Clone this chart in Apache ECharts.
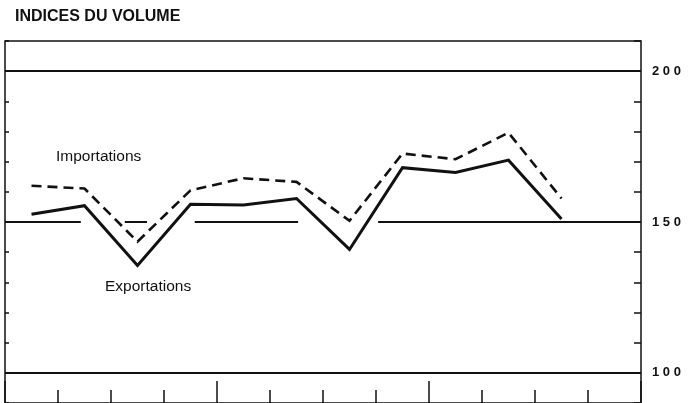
<!DOCTYPE html>
<html>
<head>
<meta charset="utf-8">
<title>Indices du volume</title>
<script src="https://cdn.jsdelivr.net/npm/echarts@6/dist/echarts.min.js"></script>
<style>
  html, body { margin: 0; padding: 0; background: #ffffff; }
  #chart { width: 700px; height: 403px; }
</style>
</head>
<body>
<div id="chart"></div>
<script>
// Quarterly periods over three years (last quarter not yet published)
var quarters = ['A1-T1', 'A1-T2', 'A1-T3', 'A1-T4',
                'A2-T1', 'A2-T2', 'A2-T3', 'A2-T4',
                'A3-T1', 'A3-T2', 'A3-T3', 'A3-T4'];

// Volume indices
var importations = [162.0, 161.1, 143.5, 160.5, 164.5, 163.3, 150.4, 172.7, 170.8, 179.6, 157.8];
var exportations = [152.6, 155.4, 135.6, 155.9, 155.6, 157.8, 140.9, 168.0, 166.4, 170.5, 151.0];

// Scale of the index axis
var yMin = 90, yMax = 210, yStep = 10;
var labelledValues = [200, 150, 100];
var fullRefLines = [200, 100];

// Broken reference line at 150, given as [from, to] in quarter units
var refLevel = 150;
var refSegments = [[0, 1.43], [2.26, 2.68], [3.58, 5.53], [7.04, 12]];

var ink = '#111111';
var chart = echarts.init(document.getElementById('chart'), null, { renderer: 'canvas' });

var refMarkData = fullRefLines.map(function (v) { return { yAxis: v }; })
  .concat(refSegments.map(function (s) {
    return [{ coord: [s[0], refLevel] }, { coord: [s[1], refLevel] }];
  }));

chart.setOption({
  animation: false,
  backgroundColor: '#ffffff',
  title: {
    text: 'INDICES DU VOLUME',
    left: 10,
    top: 4,
    textStyle: { fontFamily: 'Liberation Sans', fontSize: 16, fontWeight: 'bold', color: ink }
  },
  grid: {
    left: 5, top: 41, width: 636, height: 364,
    show: true, borderColor: ink, borderWidth: 1.5, backgroundColor: 'transparent'
  },
  xAxis: [
    {
      type: 'category', data: quarters, position: 'bottom', boundaryGap: true,
      axisLine: { show: false },
      axisTick: { show: true, inside: true, length: 13, lineStyle: { color: ink, width: 1.5 } },
      axisLabel: { show: false }, splitLine: { show: false }
    },
    {
      type: 'category', data: quarters, position: 'bottom', boundaryGap: true,
      axisLine: { show: false },
      axisTick: {
        show: true, inside: true, length: 22,
        interval: function (i) { return i % 4 === 0; },
        lineStyle: { color: ink, width: 1.5 }
      },
      axisLabel: { show: false }, splitLine: { show: false }
    },
    {
      type: 'value', min: 0, max: quarters.length, position: 'top', show: false
    }
  ],
  yAxis: [
    {
      type: 'value', position: 'left', min: yMin, max: yMax, interval: yStep,
      axisLine: { show: false },
      axisTick: { show: true, inside: true, length: 4, lineStyle: { color: ink, width: 1.5 } },
      axisLabel: { show: false }, splitLine: { show: false }
    },
    {
      type: 'value', position: 'right', min: yMin, max: yMax, interval: yStep,
      axisLine: { show: false },
      axisTick: { show: true, inside: true, length: 7, lineStyle: { color: ink, width: 1.5 } },
      axisLabel: {
        show: true, margin: 11, color: ink,
        fontFamily: 'Liberation Sans', fontSize: 13, fontWeight: 'bold',
        padding: [0, 0, 7, 0],
        formatter: function (v) {
          return labelledValues.indexOf(v) >= 0 ? String(v).split('').join(' ') : '';
        }
      },
      splitLine: { show: false }
    }
  ],
  series: [
    {
      name: 'Importations', type: 'line', xAxisIndex: 0, yAxisIndex: 0,
      data: importations, symbol: 'none', silent: true,
      lineStyle: { color: ink, width: 2.6, type: [10, 6], join: 'miter', cap: 'butt' }
    },
    {
      name: 'Exportations', type: 'line', xAxisIndex: 0, yAxisIndex: 0,
      data: exportations, symbol: 'none', silent: true,
      lineStyle: { color: ink, width: 3, type: 'solid', join: 'miter', cap: 'butt' }
    },
    {
      name: 'Repères', type: 'line', xAxisIndex: 2, yAxisIndex: 0,
      data: [], symbol: 'none', silent: true,
      markLine: {
        silent: true, symbol: ['none', 'none'], label: { show: false },
        lineStyle: { color: ink, width: 2, type: 'solid' },
        emphasis: { disabled: true },
        data: refMarkData
      }
    }
  ],
  graphic: [
    {
      type: 'text', left: 56, top: 149, silent: true,
      style: { text: 'Importations', fill: ink, font: '15.5px "Liberation Sans"' }
    },
    {
      type: 'text', left: 105, top: 279, silent: true,
      style: { text: 'Exportations', fill: ink, font: '15.5px "Liberation Sans"' }
    }
  ]
});
</script>
</body>
</html>
